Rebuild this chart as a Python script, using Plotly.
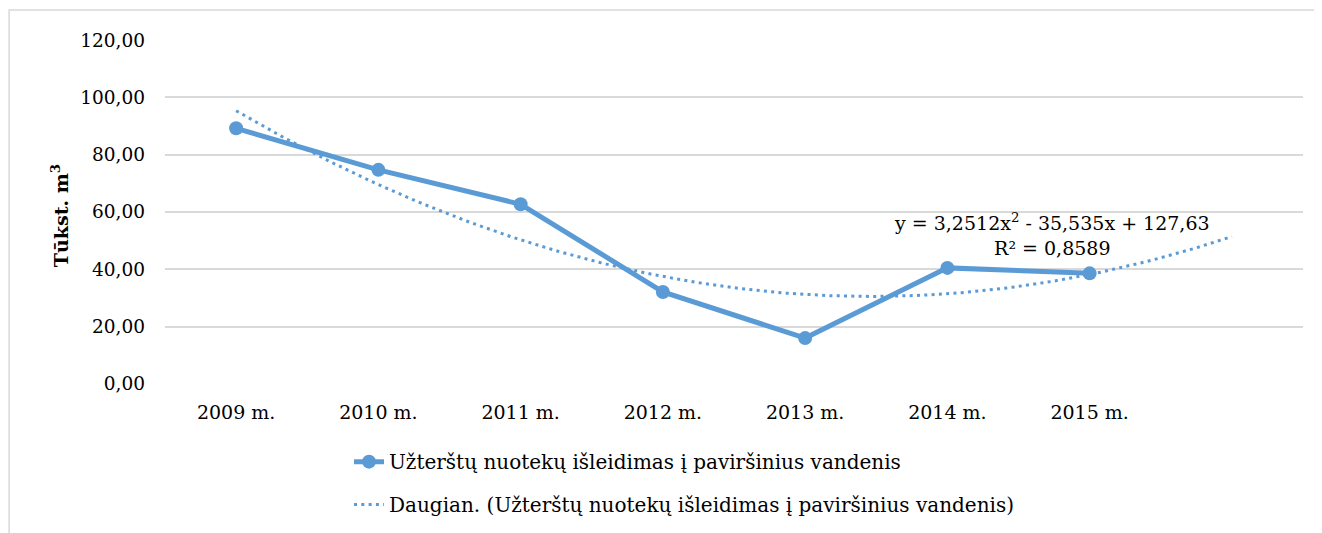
import numpy as np
import plotly.graph_objects as go

categories = ["2009 m.", "2010 m.", "2011 m.", "2012 m.", "2013 m.", "2014 m.", "2015 m."]
values = [89.2, 74.7, 62.7, 32.1, 16.0, 40.5, 38.6]
trend_coefs = [3.2512, -35.535, 127.63]  # y = a x^2 + b x + c (from chart label)
trend_forward = 1  # periods forecast forward
y_ticks = [0, 20, 40, 60, 80, 100, 120]
y_tick_labels = ["0,00", "20,00", "40,00", "60,00", "80,00", "100,00", "120,00"]

series_name = "Užterštų nuotekų išleidimas į paviršinius vandenis"
trend_name = "Daugian. (Užterštų nuotekų išleidimas į paviršinius vandenis)"

x_idx = list(range(1, len(categories) + 1))
xt = np.linspace(1, len(categories) + trend_forward, 200)
yt = np.polyval(trend_coefs, xt)

color = "#5B9BD5"
font = "DejaVu Serif"

fig = go.Figure()
fig.add_trace(go.Scatter(
    x=x_idx, y=values, mode="lines+markers", name=series_name,
    line=dict(color=color, width=5), marker=dict(size=14, color=color),
    legend="legend"))
fig.add_trace(go.Scatter(
    x=xt, y=yt, mode="lines", name=trend_name,
    line=dict(color=color, width=3, dash="3px,4.3px"), legend="legend2"))

fig.add_annotation(
    x=6.735, y=52.3, xref="x", yref="y",
    text="y = 3,2512x<sup>2</sup> - 35,535x + 127,63<br>R² = 0,8589",
    showarrow=False, font=dict(family=font, size=19, color="#000"), align="center")

# y-axis title
fig.add_annotation(
    x=0, y=0.488, xref="paper", yref="paper", xanchor="center", yanchor="middle",
    xshift=-105, text="<b>Tūkst. m<sup>3</sup></b>", textangle=-90, showarrow=False,
    font=dict(family=font, size=19, color="#000"))

fig.add_shape(type="rect", xref="paper", yref="paper",
              x0=-0.137, x1=1.2, y0=-0.8, y1=1.087,
              line=dict(color="#D9D9D9", width=1.5), fillcolor="rgba(0,0,0,0)", layer="below")

fig.update_layout(
    width=1314, height=525,
    margin=dict(l=157, r=19, t=32, b=149),
    paper_bgcolor="white", plot_bgcolor="white",
    font=dict(family=font, size=19, color="#000"),
    xaxis=dict(range=[0.5, len(categories) + 1.5], tickmode="array", tickvals=x_idx,
               ticktext=categories, showgrid=False, zeroline=False, showline=False,
               ticks="", ticklabelstandoff=15, tickfont=dict(family=font, size=19), automargin=False),
    yaxis=dict(range=[-0.02, 120.02], tickmode="array", tickvals=y_ticks, ticktext=y_tick_labels,
               showgrid=True, gridcolor="#D9D9D9", gridwidth=1.5, zeroline=False,
               showline=False, ticks="", ticklabelstandoff=19,
               tickfont=dict(family=font, size=18.5), automargin=False),
    legend=dict(x=0.1617, y=0.173, xanchor="left", yanchor="top", yref="container",
                font=dict(family=font, size=20), bgcolor="rgba(0,0,0,0)"),
    legend2=dict(x=0.1617, y=0.0914, xanchor="left", yanchor="top", yref="container",
                 font=dict(family=font, size=20), bgcolor="rgba(0,0,0,0)"),
    showlegend=True,
)

fig.write_html("out.html")
